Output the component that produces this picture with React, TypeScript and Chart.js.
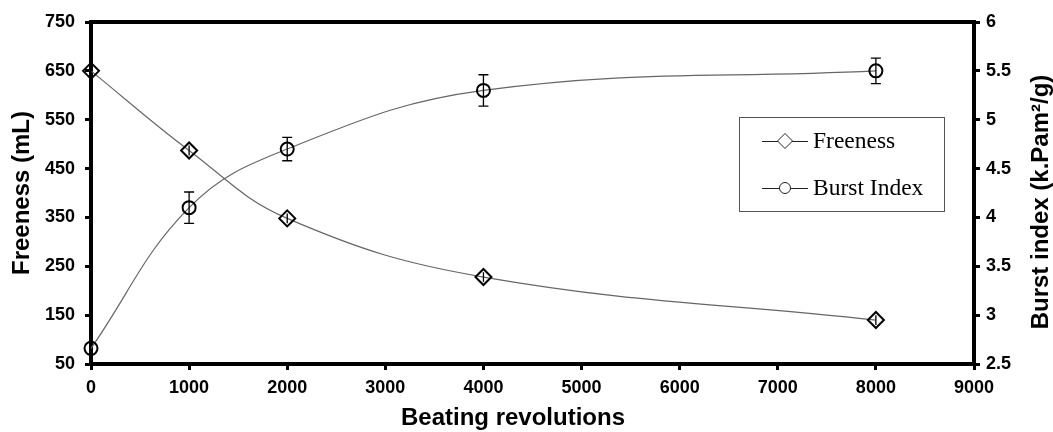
import React, { useEffect, useRef } from "react";
import { Chart, registerables } from "chart.js";

Chart.register(...registerables);

const revolutions = [0, 1000, 2000, 4000, 8000];
const freeness = [650, 487, 348, 228, 140];
const freenessErr = [10, 10, 10, 10, 10];
const burstIndex = [2.66, 4.1, 4.7, 5.3, 5.5];
const burstErr = [0, 0.16, 0.12, 0.16, 0.13];

const xTickStep = 1000;
const leftTicks = { min: 50, max: 750, step: 100 };
const rightTicks = { min: 2.5, max: 6, step: 0.5 };

const seriesNames = ["Freeness", "Burst Index"];
const xTitle = "Beating revolutions";
const leftTitle = "Freeness (mL)";
const rightTitle = "Burst index (k.Pam\u00B2/g)";

const W = 1053;
const H = 432;
const LINE_COLOR = "#666666";
const TITLE_FONT = "bold 24px 'Liberation Sans', Arial, sans-serif";

const framePlugin = {
  id: "frame",
  beforeDatasetsDraw(chart: any) {
    const { ctx, chartArea: a } = chart;
    ctx.save();
    ctx.strokeStyle = "#000";
    ctx.lineWidth = 4;
    ctx.strokeRect(a.left, a.top, a.right - a.left, a.bottom - a.top);
    ctx.restore();
  },
};

const errorBarPlugin = {
  id: "errorBars",
  afterDatasetsDraw(chart: any) {
    const { ctx, scales } = chart;
    const xs = scales.x;
    ctx.save();
    ctx.strokeStyle = "#000";
    ctx.lineWidth = 1.3;
    burstIndex.forEach((v, i) => {
      const e = burstErr[i];
      if (!e) return;
      const x = xs.getPixelForValue(revolutions[i]);
      const yt = scales.y1.getPixelForValue(v + e);
      const yb = scales.y1.getPixelForValue(v - e);
      ctx.beginPath();
      ctx.moveTo(x, yt);
      ctx.lineTo(x, yb);
      ctx.moveTo(x - 5, yt);
      ctx.lineTo(x + 5, yt);
      ctx.moveTo(x - 5, yb);
      ctx.lineTo(x + 5, yb);
      ctx.stroke();
    });
    freeness.forEach((v, i) => {
      const e = freenessErr[i];
      const x = xs.getPixelForValue(revolutions[i]);
      const yt = scales.y.getPixelForValue(v + e);
      const yb = scales.y.getPixelForValue(v - e);
      ctx.beginPath();
      ctx.moveTo(x, yt);
      ctx.lineTo(x, yb);
      ctx.stroke();
    });
    ctx.restore();
  },
};

const titlesPlugin = {
  id: "axisTitles",
  afterDraw(chart: any) {
    const { ctx, chartArea: a } = chart;
    ctx.save();
    ctx.font = TITLE_FONT;
    ctx.fillStyle = "#000";
    ctx.textAlign = "center";
    ctx.textBaseline = "middle";
    // bottom title
    ctx.fillText(xTitle, 513, 418);
    // left title
    ctx.save();
    ctx.translate(22, (a.top + a.bottom) / 2);
    ctx.rotate(-Math.PI / 2);
    ctx.fillText(leftTitle, 0, 0);
    ctx.restore();
    // right title
    ctx.save();
    ctx.translate(1041, (a.top + a.bottom) / 2 + 9);
    ctx.rotate(-Math.PI / 2);
    ctx.fillText(rightTitle, 0, 0);
    ctx.restore();
    ctx.restore();
  },
};

const legendPlugin = {
  id: "customLegend",
  afterDraw(chart: any) {
    const { ctx } = chart;
    const bx = 739, by = 117, bw = 205, bh = 94;
    ctx.save();
    ctx.fillStyle = "#fff";
    ctx.fillRect(bx, by, bw, bh);
    ctx.strokeStyle = "#555";
    ctx.lineWidth = 1;
    ctx.strokeRect(bx + 0.5, by + 0.5, bw, bh);
    const rows = [141, 188];
    rows.forEach((y, i) => {
      ctx.strokeStyle = "#222";
      ctx.lineWidth = 1;
      ctx.beginPath();
      ctx.moveTo(762, y + 0.5);
      ctx.lineTo(808, y + 0.5);
      ctx.stroke();
      ctx.beginPath();
      ctx.fillStyle = "#fff";
      if (i === 0) {
        ctx.moveTo(785, y - 7.5);
        ctx.lineTo(792.5, y);
        ctx.lineTo(785, y + 7.5);
        ctx.lineTo(777.5, y);
        ctx.closePath();
      } else {
        ctx.arc(785, y, 5.5, 0, Math.PI * 2);
      }
      ctx.fill();
      ctx.stroke();
      ctx.fillStyle = "#000";
      ctx.font = "23.5px 'Liberation Serif', 'Times New Roman', serif";
      ctx.textAlign = "left";
      ctx.textBaseline = "middle";
      ctx.fillText(seriesNames[i], 813, y + 1);
    });
    ctx.restore();
  },
};

const tickFont = { family: "'Liberation Sans', Arial, sans-serif", size: 18, weight: "bold" as const };

export default function App() {
  const ref = useRef<HTMLCanvasElement>(null);
  useEffect(() => {
    if (!ref.current) return;
    const chart = new Chart(ref.current, {
      type: "line",
      data: {
        datasets: [
          {
            label: seriesNames[0],
            data: revolutions.map((x, i) => ({ x, y: freeness[i] })),
            yAxisID: "y",
            borderColor: LINE_COLOR,
            borderWidth: 1.2,
            tension: 0.4,
            pointStyle: "rectRot",
            pointRadius: 8,
            pointBorderColor: "#000",
            pointBorderWidth: 2,
            pointBackgroundColor: "rgba(0,0,0,0)",
            clip: false,
          },
          {
            label: seriesNames[1],
            data: revolutions.map((x, i) => ({ x, y: burstIndex[i] })),
            yAxisID: "y1",
            borderColor: LINE_COLOR,
            borderWidth: 1.2,
            tension: 0.4,
            pointStyle: "circle",
            pointRadius: 6.5,
            pointBorderColor: "#000",
            pointBorderWidth: 2,
            pointBackgroundColor: "rgba(0,0,0,0)",
            clip: false,
          },
        ],
      },
      options: {
        animation: false,
        responsive: false,
        events: [],
        layout: { padding: { top: 22, left: 0, right: 0, bottom: 0 } },
        plugins: { legend: { display: false }, tooltip: { enabled: false } },
        scales: {
          x: {
            type: "linear",
            min: 0,
            max: 9000,
            ticks: { stepSize: xTickStep, font: tickFont, color: "#000", padding: 7, maxRotation: 0, callback: (v: any) => String(v) },
            grid: { drawOnChartArea: false, drawTicks: true, tickLength: 6, tickWidth: 3, tickColor: "#000" },
            border: { display: false },
            afterFit: (s: any) => { s.height = 68; },
          },
          y: {
            type: "linear",
            position: "left",
            min: leftTicks.min,
            max: leftTicks.max,
            ticks: { stepSize: leftTicks.step, font: tickFont, color: "#000", padding: 10, callback: (v: any) => String(v) },
            grid: { drawOnChartArea: false, drawTicks: true, tickLength: 6, tickWidth: 3, tickColor: "#000" },
            border: { display: false },
            afterFit: (s: any) => { s.width = 91; },
          },
          y1: {
            type: "linear",
            position: "right",
            min: rightTicks.min,
            max: rightTicks.max,
            ticks: { stepSize: rightTicks.step, font: tickFont, color: "#000", padding: 6, callback: (v: any) => String(v) },
            grid: { drawOnChartArea: false, drawTicks: true, tickLength: 6, tickWidth: 3, tickColor: "#000" },
            border: { display: false },
            afterFit: (s: any) => { s.width = 79; },
          },
        },
      },
      plugins: [framePlugin, errorBarPlugin, titlesPlugin, legendPlugin],
    });
    return () => chart.destroy();
  }, []);
  return (
    <div style={{ position: "fixed", left: 0, top: 0, width: W, height: H, background: "#fff" }}>
      <canvas ref={ref} width={W} height={H} style={{ width: W, height: H, display: "block" }} />
    </div>
  );
}
